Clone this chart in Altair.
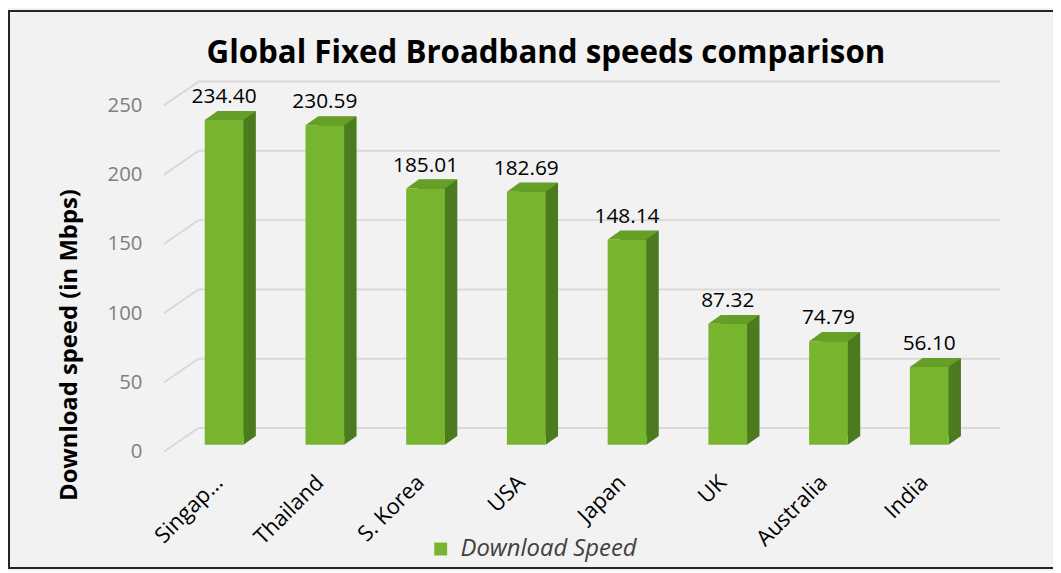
import altair as alt
import pandas as pd

countries = ["Singapore", "Thailand", "S. Korea", "USA", "Japan", "UK", "Australia", "India"]
speeds = [234.40, 230.59, 185.01, 182.69, 148.14, 87.32, 74.79, 56.10]
series_name = "Download Speed"
y_ticks = [0, 50, 100, 150, 200, 250]

FRONT = "#78b52f"
SIDE = "#4c7b1f"
TOP = "#659f27"
FONT = "Open Sans"

df = pd.DataFrame({"country": countries, "speed": speeds, "series": series_name})
df["zero"] = 0.0
df["label"] = [f"{v:.2f}" for v in speeds]
grid_df = pd.DataFrame({"t": y_ticks})

yscale = alt.Scale(domain=[0, 250], nice=False)
yaxis = alt.Axis(title="Download speed (in Mbps)", values=y_ticks, labelOffset=7,
                 labelPadding=32, labelFontSize=20.5, labelFont=FONT, labelColor="#7f7f7f",
                 domain=False, ticks=False, grid=False,
                 titleFont=FONT, titleFontSize=24, titleFontWeight="bold", titleColor="#000000",
                 titleX=-105, titleY=248, titleAngle=-90, titleAlign="center",
                 titleBaseline="middle")
xaxis = alt.Axis(title=None, labelAngle=-45, labelAlign="right", labelBaseline="top",
                 labelPadding=27, labelOffset=-12, labelFontSize=22, labelFont=FONT,
                 labelColor="#000000", domain=False, ticks=False, grid=False,
                 labelExpr="datum.label == 'Singapore' ? 'Singap...' : datum.label")
xenc = alt.X("country:N", sort=countries, scale=alt.Scale(paddingInner=0, paddingOuter=0), axis=xaxis)


def yenc(field):
    return alt.Y(field, scale=yscale, axis=yaxis)


border = alt.Chart(grid_df).mark_rect(filled=False, stroke="#262626", strokeWidth=2).encode(
    x=alt.value(-166), x2=alt.value(900), y=alt.value(-88), y2=alt.value(473))

grid = alt.Chart(grid_df).mark_rule(color="#d9d9d9", strokeWidth=2, yOffset=-17).encode(
    x=alt.value(25), x2=alt.value(833), y=yenc("t:Q"))

diag = alt.Chart(grid_df).mark_rule(color="#d9d9d9", strokeWidth=2, yOffset=7, y2Offset=-17).encode(
    x=alt.value(-10), x2=alt.value(25), y=yenc("t:Q"), y2="t:Q")

base = alt.Chart(df)

side = base.mark_bar(size=39, color=SIDE, xOffset=12.5, yOffset=-9, y2Offset=-9).encode(
    x=xenc, y=yenc("speed:Q"), y2="zero:Q")

bottom_tri = base.mark_point(
    shape="M 0.975 0 L 0.975 -0.45 L 1.6 -0.45 Z", size=1600, filled=True, opacity=1,
    strokeWidth=0, color=SIDE).encode(x=xenc, y=yenc("zero:Q"))

front = base.mark_bar(size=39).encode(
    x=xenc,
    y=yenc("speed:Q"),
    y2="zero:Q",
    color=alt.Color("series:N", scale=alt.Scale(range=[FRONT]),
                    legend=alt.Legend(title=None, orient="none", legendX=257, legendY=442,
                                      symbolType="square", symbolSize=169, symbolStrokeWidth=0,
                                      labelFont=FONT, labelFontSize=24, labelFontStyle="italic",
                                      labelColor="#404040", labelOffset=8, labelLimit=400)))

top = base.mark_point(
    shape="M -0.975 0 L 0.975 0 L 1.6 -0.45 L -0.35 -0.45 Z", size=1600, filled=True, opacity=1,
    strokeWidth=0, color=TOP).encode(x=xenc, y=yenc("speed:Q"))

labels = base.mark_text(dy=-17, baseline="alphabetic", fontSize=21, font=FONT, color="#000000").encode(
    x=xenc, y=yenc("speed:Q"), text="label:N")

chart = alt.layer(border, grid, diag, side, bottom_tri, front, top, labels).properties(
    width=812, height=349,
    autosize=alt.AutoSizeParams(type="none"),
    padding={"left": 167, "top": 89, "right": 74, "bottom": 125},
    background="#f2f2f2",
    title=alt.Title("Global Fixed Broadband speeds comparison", font=FONT, fontSize=31.5,
                    fontWeight="bold", color="#000000", anchor="middle", frame="group",
                    baseline="alphabetic", dx=-31, offset=-85),
).configure_view(stroke=None)

chart.save("out.html", embed_options={"renderer": "svg", "actions": False})
